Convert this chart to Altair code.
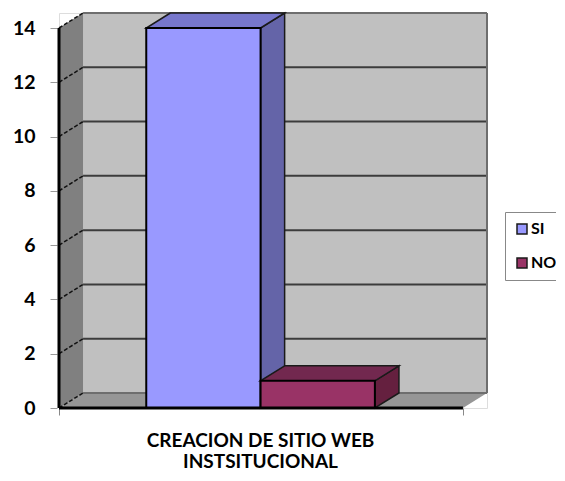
import altair as alt
import pandas as pd

# ---- data ----
categories = ["SI", "NO"]
values = [14, 1]
front_colors = ["#9999FF", "#993366"]
top_colors = ["#7777CC", "#72284F"]
side_colors = ["#6464A8", "#65203F"]
y_ticks = [0, 2, 4, 6, 8, 10, 12, 14]
x_title = ["CREACION DE SITIO WEB", "INSTSITUCIONAL"]

# ---- layout constants (3-D look) ----
W, H = 428, 395
YMAX = 14
DX = 24 / 403            # depth offset in x-data units
DY = 15 / (380 / YMAX)   # depth offset in y-data units
GAP = 0.216
BW = 0.283
FONT = "Lato"

xs = alt.Scale(domain=[0, 1 + DX], nice=False, zero=False)
ys = alt.Scale(domain=[0, YMAX + DY], nice=False, zero=False)

xax = alt.Axis(values=[0, 1], labels=False, domain=False, grid=False,
               ticks=True, tickColor="#888888", tickSize=7, tickWidth=1,
               title=x_title, titleFont=FONT, titleFontSize=19,
               titleFontWeight="bold", titleColor="black",
               titleX=201, titleY=38, titleAlign="center",
               titleBaseline="alphabetic", titleLineHeight=21)
yax = alt.Axis(values=y_ticks, domain=False, grid=False, ticks=True,
               tickColor="#999999", tickSize=7, tickWidth=1, tickOffset=0,
               offset=2, labelFont=FONT, labelFontSize=19.5,
               labelFontWeight="bold", labelColor="black", labelPadding=15,
               title=None)


def X(f):
    return alt.X(f, type="quantitative", scale=xs, axis=xax)


def Y(f):
    return alt.Y(f, type="quantitative", scale=ys, axis=yax)


# back wall
wall = pd.DataFrame({"x": [DX], "x2": [1 + DX], "y": [DY], "y2": [YMAX + DY]})
back = alt.Chart(wall).mark_rect(fill="#C0C0C0").encode(
    x=X("x"), x2="x2", y=Y("y"), y2="y2")

# left side wall
lw = pd.DataFrame({"x": [0, DX], "y": [YMAX, YMAX + DY], "y2": [0, DY]})
left_wall = alt.Chart(lw).mark_area(fill="#808080").encode(
    x=X("x"), y=Y("y"), y2="y2")

# floor
fl = pd.DataFrame({"y": [0, DY], "x": [0, DX], "x2": [1, 1 + DX]})
floor = alt.Chart(fl).mark_area(orient="horizontal", fill="#969696").encode(
    y=Y("y"), x=X("x"), x2="x2")

# back wall gridlines
gl = pd.DataFrame({"v": [t + DY for t in y_ticks],
                   "c": ["#6E6E6E"] + ["#3C3C3C"] * (len(y_ticks) - 2) + ["#6E6E6E"],
                   "x": DX, "x2": 1 + DX})
grid = alt.Chart(gl).mark_rule(strokeWidth=2).encode(
    x=X("x"), x2="x2", y=Y("v"), color=alt.Color("c:N", scale=None))

redge = pd.DataFrame({"x": [1 + DX], "y": [DY], "y2": [YMAX + DY]})
right_edge = alt.Chart(redge).mark_rule(strokeWidth=2, color="#6E6E6E").encode(
    x=X("x"), y=Y("y"), y2="y2")

# slanted lines on the side wall
sl = pd.DataFrame({"y": y_ticks, "y2": [t + DY for t in y_ticks],
                   "x": 0.0, "x2": DX})
slants = alt.Chart(sl).mark_rule(strokeWidth=1.5, color="#111111",
                                 strokeDash=[4, 2]).encode(
    x=X("x"), x2="x2", y=Y("y"), y2="y2")

# bars
x0 = [GAP + i * BW for i in range(len(categories))]
x1 = [GAP + (i + 1) * BW for i in range(len(categories))]
bars = pd.DataFrame({"cat": categories, "v": values, "x0": x0, "x1": x1,
                     "y0": 0})

side_rows, top_rows = [], []
for c, v, a, b, sc, tc in zip(categories, values, x0, x1, side_colors, top_colors):
    side_rows += [{"cat": c, "x": b, "y": v, "y2": 0, "col": sc},
                  {"cat": c, "x": b + DX, "y": v + DY, "y2": DY, "col": sc}]
    top_rows += [{"cat": c, "y": v, "x": a, "x2": b, "col": tc},
                 {"cat": c, "y": v + DY, "x": a + DX, "x2": b + DX, "col": tc}]
side_df = pd.DataFrame(side_rows)
top_df = pd.DataFrame(top_rows)


def bar_layers(i):
    c = categories[i]
    s = alt.Chart(side_df[side_df.cat == c]).mark_area(
        stroke="#1A1A1A", strokeWidth=1.5).encode(
        x=X("x"), y=Y("y"), y2="y2", fill=alt.Fill("col:N", scale=None))
    t = alt.Chart(top_df[top_df.cat == c]).mark_area(
        orient="horizontal", stroke="#1A1A1A", strokeWidth=1.5).encode(
        y=Y("y"), x=X("x"), x2="x2", fill=alt.Fill("col:N", scale=None))
    f = alt.Chart(bars[bars.cat == c]).mark_rect(
        stroke="black", strokeWidth=2).encode(
        x=X("x0"), x2="x1", y=Y("y0"), y2="v",
        fill=alt.Fill("cat:N",
                      scale=alt.Scale(domain=categories, range=front_colors),
                      legend=alt.Legend(
                          title=None, orient="none", legendX=446, legendY=199,
                          symbolType="square", symbolSize=100,
                          symbolStrokeColor="black", symbolStrokeWidth=1.5,
                          labelFont=FONT, labelFontSize=16,
                          labelFontWeight="bold", labelColor="black",
                          labelOffset=1, rowPadding=18,
                          strokeColor="#888888", padding=9,
                          symbolOpacity=1)))
    return [s, t, f]


edges = pd.DataFrame({"x": [0.0], "x2": [1.0], "y": [0.0], "y2": [YMAX]})
left_edge = alt.Chart(edges).mark_rule(color="black", strokeWidth=3).encode(
    x=X("x"), y=Y("y"), y2="y2")
bottom_edge = alt.Chart(edges).mark_rule(color="black", strokeWidth=3).encode(
    x=X("x"), x2="x2", y=Y("y"))

layers = [back, left_wall, floor, grid, right_edge, slants]
layers += bar_layers(0)
layers += bar_layers(1)
layers += [left_edge, bottom_edge]

chart = alt.layer(*layers).properties(
    width=W, height=H,
    autosize=alt.AutoSizeParams(type="none"),
    padding={"left": 51, "top": 5, "right": 69, "bottom": 64},
).configure_view(stroke=None).configure(background="white")

chart.save("out.html", embed_options={"renderer": "svg", "actions": False})
